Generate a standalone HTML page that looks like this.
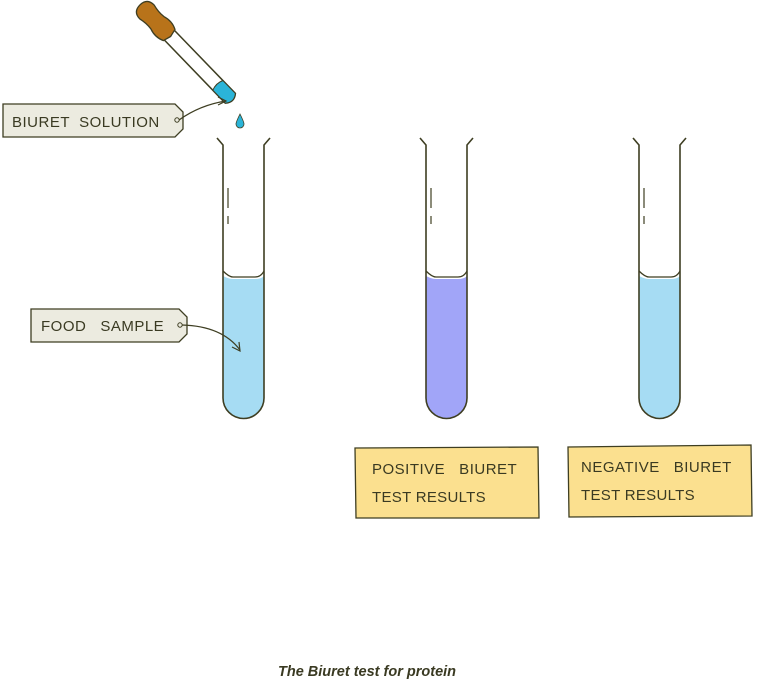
<!DOCTYPE html>
<html><head><meta charset="utf-8"><style>
html,body{margin:0;padding:0;background:#fff;width:774px;height:692px;overflow:hidden}
svg{display:block}
text{font-family:"Liberation Sans",sans-serif;fill:#3a3a22;white-space:pre}
</style></head><body>
<svg width="774" height="692" viewBox="0 0 774 692" xmlns="http://www.w3.org/2000/svg" xml:space="preserve">
<!-- dropper -->
<g transform="translate(147,12) rotate(46)">
<path d="M30,-7 L120,-7 Q126,0 120,7 L30,7 Z" fill="#fff" stroke="#3e3e22" stroke-width="1.5"/>
<path d="M102,-7 L120,-7 Q126,0 120,7 L102,7 Q99,0 102,-7 Z" fill="#2bb4d8" stroke="#3e3e22" stroke-width="1"/>
<path d="M0,-10 Q-10,-10 -10,0 Q-10,10 0,10 Q8,8 15,9 Q24,12 32,8 L34,0 L32,-8 Q24,-12 15,-9 Q8,-8 0,-10 Z" fill="#b8731a" stroke="#3e3e22" stroke-width="1.3"/>
</g>
<path d="M240,114 Q236,122 236,124 A4,4 0 0 0 244,124 Q244,122 240,114 Z" fill="#2bb4d8" stroke="#3e3e22" stroke-width="0.8"/>
<!-- tubes -->
<g transform="translate(221,0)">
<path d="M2,276 Q8,279 12,279 L34,279 Q40,279 43,276 L43,398 A20.5,20.5 0 0 1 2,398 Z" fill="#a6dcf3"/>
<path d="M-4,138 L2,145 L2,398 A20.5,20.5 0 0 0 43,398 L43,145 L49,138" fill="none" stroke="#3e3e22" stroke-width="1.6"/>
<path d="M2,271 Q8,277 12,277 L34,277 Q40,277 43,271" fill="none" stroke="#3e3e22" stroke-width="1.3"/>
<line x1="7" y1="188" x2="7" y2="208" stroke="#3e3e22" stroke-width="1.2"/>
<line x1="7" y1="216" x2="7" y2="224" stroke="#3e3e22" stroke-width="1.2"/>
</g>
<g transform="translate(424,0)">
<path d="M2,276 Q8,279 12,279 L34,279 Q40,279 43,276 L43,398 A20.5,20.5 0 0 1 2,398 Z" fill="#a1a5f8"/>
<path d="M-4,138 L2,145 L2,398 A20.5,20.5 0 0 0 43,398 L43,145 L49,138" fill="none" stroke="#3e3e22" stroke-width="1.6"/>
<path d="M2,271 Q8,277 12,277 L34,277 Q40,277 43,271" fill="none" stroke="#3e3e22" stroke-width="1.3"/>
<line x1="7" y1="188" x2="7" y2="208" stroke="#3e3e22" stroke-width="1.2"/>
<line x1="7" y1="216" x2="7" y2="224" stroke="#3e3e22" stroke-width="1.2"/>
</g>
<g transform="translate(637,0)">
<path d="M2,276 Q8,279 12,279 L34,279 Q40,279 43,276 L43,398 A20.5,20.5 0 0 1 2,398 Z" fill="#a6dcf3"/>
<path d="M-4,138 L2,145 L2,398 A20.5,20.5 0 0 0 43,398 L43,145 L49,138" fill="none" stroke="#3e3e22" stroke-width="1.6"/>
<path d="M2,271 Q8,277 12,277 L34,277 Q40,277 43,271" fill="none" stroke="#3e3e22" stroke-width="1.3"/>
<line x1="7" y1="188" x2="7" y2="208" stroke="#3e3e22" stroke-width="1.2"/>
<line x1="7" y1="216" x2="7" y2="224" stroke="#3e3e22" stroke-width="1.2"/>
</g>
<!-- labels -->
<path d="M3,104 L175,104 L183,112 L183,129 L175,137 L3,137 Z" fill="#ecebe0" stroke="#3e3e22" stroke-width="1.3"/>
<text x="12" y="127" font-size="15" letter-spacing="0.5">BIURET  SOLUTION</text>
<circle cx="177" cy="120" r="2.2" fill="none" stroke="#3e3e22" stroke-width="1"/>
<path d="M179,120 Q200,105 226,101" fill="none" stroke="#3e3e22" stroke-width="1.2"/>
<path d="M218,97 L226,101 L218,105" fill="none" stroke="#3e3e22" stroke-width="1.2"/>
<path d="M31,309 L179,309 L187,317 L187,334 L179,342 L31,342 Z" fill="#ecebe0" stroke="#3e3e22" stroke-width="1.3"/>
<text x="41" y="331" font-size="15" letter-spacing="0.5">FOOD   SAMPLE</text>
<circle cx="180" cy="325" r="2.2" fill="none" stroke="#3e3e22" stroke-width="1"/>
<path d="M182,325 Q222,326 240,350" fill="none" stroke="#3e3e22" stroke-width="1.2"/>
<path d="M232,347 L240,351 L239,342" fill="none" stroke="#3e3e22" stroke-width="1.2"/>
<!-- result boxes -->
<path d="M355,448 L538,447 L539,518 L356,518 Z" fill="#fbe08f" stroke="#3e3e22" stroke-width="1.3"/>
<text x="372" y="474" font-size="15" letter-spacing="0.5">POSITIVE   BIURET</text>
<text x="372" y="502" font-size="15" letter-spacing="0.3">TEST RESULTS</text>
<path d="M568,447 L751,445 L752,516 L569,517 Z" fill="#fbe08f" stroke="#3e3e22" stroke-width="1.3"/>
<text x="581" y="472" font-size="15" letter-spacing="0.5">NEGATIVE   BIURET</text>
<text x="581" y="500" font-size="15" letter-spacing="0.3">TEST RESULTS</text>
<text x="278" y="676" font-size="14.5" font-weight="bold" font-style="italic" fill="#2e2e1a">The Biuret test for protein</text>
</svg>
</body></html>
